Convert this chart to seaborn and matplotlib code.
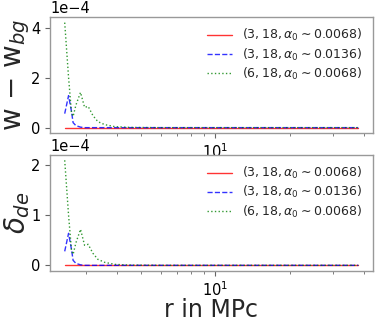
import matplotlib
matplotlib.use("Agg")
import matplotlib.pyplot as plt
import seaborn as sns

# r in MPc
r = [2.45, 2.54, 2.61, 2.65, 2.72, 2.84, 2.95, 3.05, 3.19, 3.34, 3.56, 3.91, 4.5, 6.0, 10.0, 20.0, 38.0]

# w - w_bg  (units of 1e-4)
w_a = [0, 0, 0, 0, 0, 0, 0, 0, 0, 0, 0, 0, 0, 0, 0, 0, 0]
w_b = [0.56, 1.28, 0.65, 0.20, 0.08, 0.02, 0, 0, 0, 0, 0, 0, 0, 0, 0, 0, 0]
w_c = [4.2, 2.0, 0.6, 0.45, 0.9, 1.41, 0.81, 0.85, 0.48, 0.24, 0.12, 0.04, 0.01, 0, 0, 0, 0]

# delta_de  (units of 1e-4)
d_a = [0, 0, 0, 0, 0, 0, 0, 0, 0, 0, 0, 0, 0, 0, 0, 0, 0]
d_b = [0.28, 0.64, 0.32, 0.10, 0.04, 0.01, 0, 0, 0, 0, 0, 0, 0, 0, 0, 0, 0]
d_c = [2.1, 1.0, 0.3, 0.22, 0.45, 0.72, 0.40, 0.42, 0.24, 0.12, 0.06, 0.02, 0.005, 0, 0, 0, 0]

labels = [r'$(3, 18, \alpha_0 \sim 0.0068)$',
          r'$(3, 18, \alpha_0 \sim 0.0136)$',
          r'$(6, 18, \alpha_0 \sim 0.0068)$']
styles = [('r', '-'), ('b', '--'), ('g', ':')]

sns.set_style("white", {"axes.edgecolor": "0.6", "xtick.bottom": True, "ytick.left": True,
                        "xtick.color": "0.4", "ytick.color": "0.4"})
plt.rcParams['font.family'] = ['DejaVu Sans']

fig = plt.figure(figsize=(3.79, 3.21), dpi=100)
ax1 = fig.add_axes([0.132, 0.586, 0.852, 0.360])
ax2 = fig.add_axes([0.132, 0.157, 0.852, 0.360])

for ax, series, ticks in [(ax1, [w_a, w_b, w_c], [0, 2e-4, 4e-4]),
                          (ax2, [d_a, d_b, d_c], [0, 1e-4, 2e-4])]:
    for vals, lab, (c, ls) in zip(series, labels, styles):
        sns.lineplot(x=r, y=[v * 1e-4 for v in vals], ax=ax, color=c, linestyle=ls,
                     linewidth=1.0, alpha=0.8, label=lab)
    ax.set_xscale('log')
    ax.set_yticks(ticks)
    ax.ticklabel_format(axis='y', style='sci', scilimits=(0, 0))
    ax.tick_params(labelsize=10.5, length=3.5, width=0.8, labelcolor='black')
    ax.tick_params(which='minor', length=2, width=0.6)
    ax.yaxis.get_offset_text().set_fontsize(10.5)
    for sp in ax.spines.values():
        sp.set_linewidth(1.0)
    ax.legend(loc='upper right', frameon=False, fontsize=9, labelspacing=0.25,
              borderaxespad=0.4)

ax1.set_ylabel(r'w $-$ w$_{bg}$', fontsize=20)
ax1.yaxis.set_label_coords(-0.057, 0.5)
ax2.set_ylabel(r'$\delta_{de}$', fontsize=20)
ax2.yaxis.set_label_coords(-0.057, 0.5)
ax2.set_xlabel('r in MPc', fontsize=17, labelpad=-1)

fig.savefig('out.png', dpi=100)
